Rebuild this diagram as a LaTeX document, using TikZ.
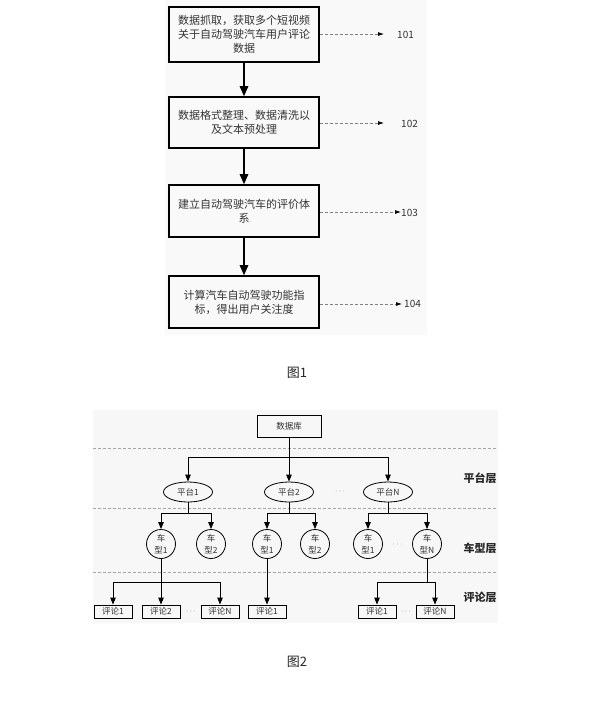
\documentclass[tikz,border=0pt]{standalone}
\usepackage{fontspec}
\setmainfont{Noto Sans CJK SC}
\usetikzlibrary{shapes.geometric,arrows.meta}
\tikzset{
  bigbox/.style={draw=black,line width=1.6pt,minimum width=150pt,align=center,font=\fontsize{11}{14}\selectfont,text=black!80,inner sep=0pt},
  bigarr/.style={line width=1.3pt,-{Triangle[width=8.5pt,length=10pt]}},
  refarr/.style={densely dashed,gray,line width=0.7pt,-{Latex[black,width=4pt,length=6pt]}},
  reflab/.style={anchor=west,font=\fontsize{10}{12}\selectfont,text=black!80,inner sep=0pt},
  sepline/.style={densely dashed,gray!70,line width=0.8pt},
  arr/.style={line width=0.9pt,-{Triangle[width=5.5pt,length=7pt]}},
  ln/.style={line width=0.9pt},
  plat/.style={draw,ellipse,line width=0.8pt,minimum width=49pt,minimum height=20pt,inner sep=0pt,font=\fontsize{8.5}{10}\selectfont,text=black!80},
  car/.style={draw,circle,line width=0.8pt,minimum size=29pt,inner sep=0pt,align=center,font=\fontsize{8.5}{12}\selectfont,text=black!80},
  com/.style={draw,line width=0.9pt,minimum width=38pt,minimum height=13pt,inner sep=0pt,font=\fontsize{8.5}{10}\selectfont,text=black!80},
  layer/.style={font=\bfseries\fontsize{11}{13}\selectfont,text=black!85},
  dots/.style={font=\fontsize{8}{9}\selectfont,text=gray},
  figcap/.style={font=\fontsize{13}{15}\selectfont,text=black!85}
}
\begin{document}
\begin{tikzpicture}[x=1pt,y=-1pt]
\useasboundingbox[fill=white] (0,0) rectangle (595,705);
% backgrounds
\fill[gray!5] (165,0) rectangle (427,335);
\fill[gray!6] (93,410) rectangle (498,623);
% Figure 1
\node[bigbox,minimum height=55pt] (b1) at (244,34.5) {数据抓取，获取多个短视频\\关于自动驾驶汽车用户评论\\数据};
\node[bigbox,minimum height=51pt] (b2) at (244,122.5) {数据格式整理、数据清洗以\\及文本预处理};
\node[bigbox,minimum height=52pt] (b3) at (244,211) {建立自动驾驶汽车的评价体\\系};
\node[bigbox,minimum height=52pt] (b4) at (244,302) {计算汽车自动驾驶功能指\\标，得出用户关注度};
\draw[bigarr] (b1) -- (b2);
\draw[bigarr] (b2) -- (b3);
\draw[bigarr] (b3) -- (b4);
\coordinate (e1) at (384,34);
\coordinate (e2) at (384,123);
\coordinate (e3) at (401,212);
\coordinate (e4) at (402,304);
\draw[refarr] (b1.east |- e1) -- (e1);
\draw[refarr] (b2.east |- e2) -- (e2);
\draw[refarr] (b3.east |- e3) -- (e3);
\draw[refarr] (b4.east |- e4) -- (e4);
\node[reflab] (l1) at (397,35) {101};
\node[reflab] (l2) at (401,124) {102};
\node[reflab] (l3) at (401,213) {103};
\node[reflab] (l4) at (404,304) {104};
\node[figcap] (cap1) at (297,373) {图1};
% Figure 2
\node[draw,line width=0.9pt,minimum width=64pt,minimum height=22pt,inner sep=0pt,font=\fontsize{8.5}{10}\selectfont,text=black!80] (db) at (289,426) {数据库};
\coordinate (s1a) at (93,448); \coordinate (s1b) at (498,448);
\coordinate (s2a) at (93,508); \coordinate (s2b) at (498,508);
\coordinate (s3a) at (93,572); \coordinate (s3b) at (498,572);
\draw[sepline] (s1a) -- (s1b);
\draw[sepline] (s2a) -- (s2b);
\draw[sepline] (s3a) -- (s3b);
\node[plat] (p1) at (188,492) {平台1};
\node[plat] (p2) at (289,492) {平台2};
\node[plat] (pN) at (388,492) {平台N};
\node[dots] (d0) at (340,492) {$\cdots$};
\coordinate (j0) at (289,457);
\draw[arr] (db) -- (p2);
\draw[arr] (j0) -| (p1.north);
\draw[arr] (j0) -| (pN.north);
% car layer
\node[car] (c11) at (161,544) {车\\型1};
\node[car] (c12) at (211,544) {车\\型2};
\node[car] (c21) at (267,544) {车\\型1};
\node[car] (c22) at (315,544) {车\\型2};
\node[car] (c31) at (368,544) {车\\型1};
\node[car] (c3N) at (427,544) {车\\型N};
\node[dots] (d1) at (397.5,545) {$\cdots$};
\coordinate (j1) at (188,513);
\coordinate (j2) at (289,513);
\coordinate (j3) at (388,513);
\draw[ln] (p1.south) -- (j1);
\draw[ln] (p2.south) -- (j2);
\draw[ln] (pN.south) -- (j3);
\draw[arr] (j1) -| (c11.north);
\draw[arr] (j1) -| (c12.north);
\draw[arr] (j2) -| (c21.north);
\draw[arr] (j2) -| (c22.north);
\draw[arr] (j3) -| (c31.north);
\draw[arr] (j3) -| (c3N.north);
% comment layer
\node[com] (r11) at (113,611.5) {评论1};
\node[com] (r12) at (161,611.5) {评论2};
\node[com] (r1N) at (220,611.5) {评论N};
\node[com] (r21) at (267,611.5) {评论1};
\node[com] (r31) at (377,611.5) {评论1};
\node[com] (r3N) at (435,611.5) {评论N};
\node[dots] (d2) at (191,612) {$\cdots$};
\node[dots] (d3) at (406,612) {$\cdots$};
\coordinate (j4) at (161,582);
\coordinate (j6) at (427,582);
\draw[arr] (c11) -- (r12);
\draw[arr] (j4) -| (r11.north);
\draw[arr] (j4) -| (r1N.north);
\draw[arr] (c21) -- (r21);
\draw[ln] (c3N.south) -- (j6);
\draw[arr] (j6) -| (r31.north);
\draw[arr] (j6) -| (r3N.north);
% layer labels
\node[layer] (L1) at (480,478) {平台层};
\node[layer] (L2) at (480,548) {车型层};
\node[layer] (L3) at (480,597) {评论层};
\node[figcap] (cap2) at (297,662) {图2};
\end{tikzpicture}
\end{document}
